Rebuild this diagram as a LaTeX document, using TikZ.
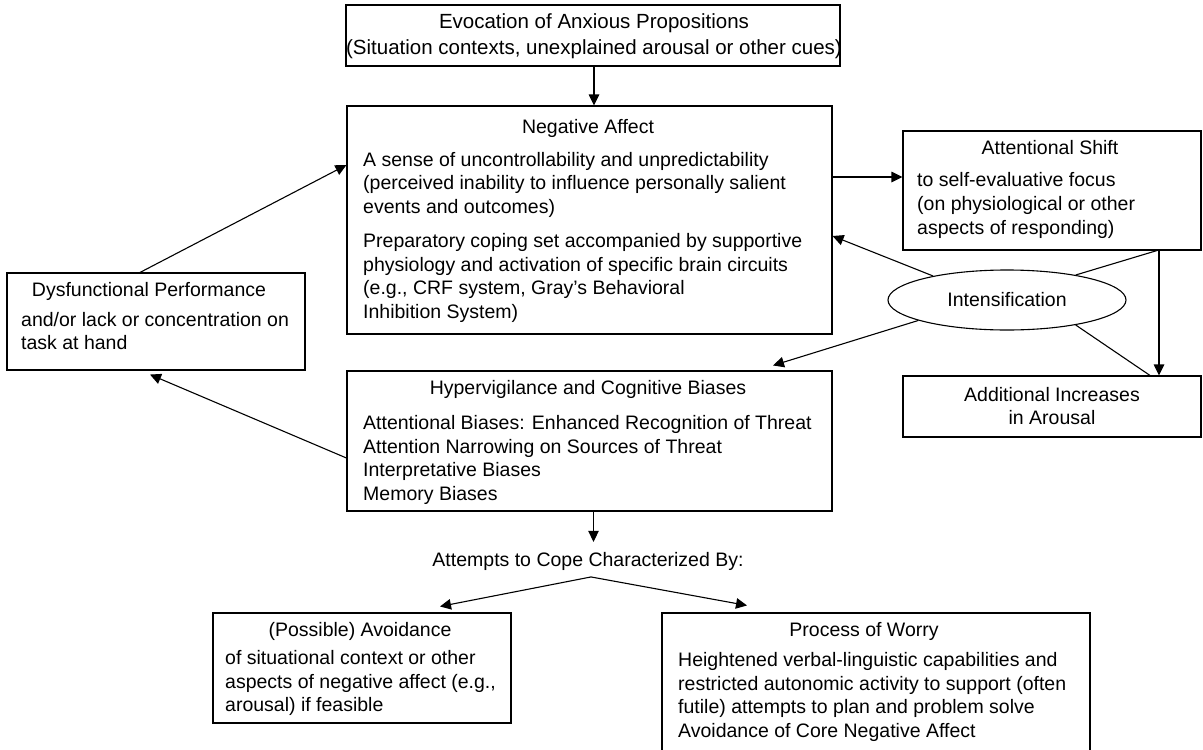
\documentclass[tikz,border=0pt]{standalone}
\usepackage{fontspec}
\setmainfont{Liberation Sans}
\usetikzlibrary{arrows.meta,shapes.geometric}

\begin{document}
\begin{tikzpicture}[x=1pt,y=-1pt,
  every node/.style={font=\fontsize{19.5}{23.7}\selectfont},
  box/.style={draw, line width=1.1pt, inner sep=0pt},
  title/.style={anchor=base, inner sep=0pt},
  body/.style={anchor=north west, inner sep=0pt, align=left,
               execute at begin node={\rule{0pt}{15pt}}},
  cbody/.style={body, anchor=north, align=center},
  arr/.style={-{Triangle[length=11pt,width=10.5pt]}, line width=1.1pt},
  link/.style={line width=1.1pt}]

\useasboundingbox (0,0) rectangle (1203,750);
\clip (0,0) rectangle (1203,750);

% ---- frames ----
\node[box, minimum width=494pt, minimum height=61pt]  (evoc)  at (593,35.5) {};
\node[box, minimum width=485pt, minimum height=228pt] (na)    at (589.5,220) {};
\node[box, minimum width=298pt, minimum height=119pt] (as)    at (1052,190.5) {};
\node[box, minimum width=298pt, minimum height=61pt]  (add)   at (1052,406.5) {};
\node[box, ellipse, minimum width=238pt, minimum height=60pt] (int) at (1007,300) {Intensification};
\node[box, minimum width=298pt, minimum height=97pt]  (dysf)  at (156,321.5) {};
\node[box, minimum width=485pt, minimum height=140pt] (hyp)   at (589.5,441) {};
\node[box, minimum width=298pt, minimum height=110pt] (avoid) at (362,668) {};
\node[box, minimum width=428pt, minimum height=143pt] (worry) at (876,684.5) {};

% ---- texts ----
\node[title, font=\fontsize{20.5}{24}\selectfont] (evoc-t) at (594,28.3) {Evocation of Anxious Propositions};
\node[title, font=\fontsize{20.5}{24}\selectfont] (evoc-s) at (594,54.5) {(Situation contexts, unexplained arousal or other cues)};

\node[title] (na-t) at (588,133.3) {Negative Affect};
\node[body] (na-b1) at (363,151.7) {A sense of uncontrollability and unpredictability\\(perceived inability to influence personally salient\\events and outcomes)};
\node[body] (na-b2) at (363,233) {Preparatory coping set accompanied by supportive\\physiology and activation of specific brain circuits\\(e.g., CRF system, Gray’s Behavioral\\Inhibition System)};

\node[title] (as-t) at (1050,154) {Attentional Shift};
\node[body] (as-b) at (917,172.3) {to self-evaluative focus\\(on physiological or other\\aspects of responding)};

\node[cbody] (add-t) at (1052,386.7) {Additional Increases\\in Arousal};

\node[title] (dysf-t) at (149,296.7) {Dysfunctional Performance};
\node[body] (dysf-b) at (21,311.7) {and/or lack or concentration on\\task at hand};

\node[title] (hyp-t) at (588,394) {Hypervigilance and Cognitive Biases};
\node[body] (hyp-b) at (363,415) {Attentional Biases: Enhanced Recognition of Threat\\Attention Narrowing on Sources of Threat\\Interpretative Biases\\Memory Biases};

\node[title] (att) at (588,566.7) {Attempts to Cope Characterized By:};
\coordinate (fork) at ([xshift=3pt,yshift=-6pt]att.south);

\node[title] (avoid-t) at (360,636.7) {(Possible) Avoidance};
\node[body] (avoid-b) at (225,650) {of situational context or other\\aspects of negative affect (e.g.,\\arousal) if feasible};

\node[title] (worry-t) at (864,636.7) {Process of Worry};
\node[body] (worry-b) at (678,652) {Heightened verbal-linguistic capabilities and\\restricted autonomic activity to support (often\\futile) attempts to plan and problem solve\\Avoidance of Core Negative Affect};

% ---- connectors ----
\draw[arr] ([xshift=1pt]evoc.south) -- ([xshift=4.5pt]na.north);
\draw[arr] ([yshift=43pt]na.east) -- ([yshift=13.5pt]as.west);
\draw[arr] (int.162) -- ([yshift=-16pt]na.east);
\draw[link] (int.20) -- ([xshift=105pt]as.south);
\draw[arr] ([xshift=107pt]as.south) -- ([xshift=107pt]add.north);
\draw[link] (int.-20) -- ([xshift=98pt]add.north);
\draw[arr] (int.193) -- ([xshift=183.5pt,yshift=5pt]hyp.north);
\draw[arr] ([xshift=-16pt]dysf.north) -- ([yshift=55pt]na.west);
\draw[arr] ([yshift=-17pt]hyp.west) -- ([xshift=-6pt,yshift=-4pt]dysf.south);
\draw[arr] ([xshift=4pt]hyp.south) -- ([xshift=5.5pt,yshift=10.5pt]att.north);
\draw[arr] (fork) -- ([xshift=78pt,yshift=6pt]avoid.north);
\draw[arr] (fork) -- ([xshift=-129pt,yshift=7pt]worry.north);
\end{tikzpicture}
\end{document}
